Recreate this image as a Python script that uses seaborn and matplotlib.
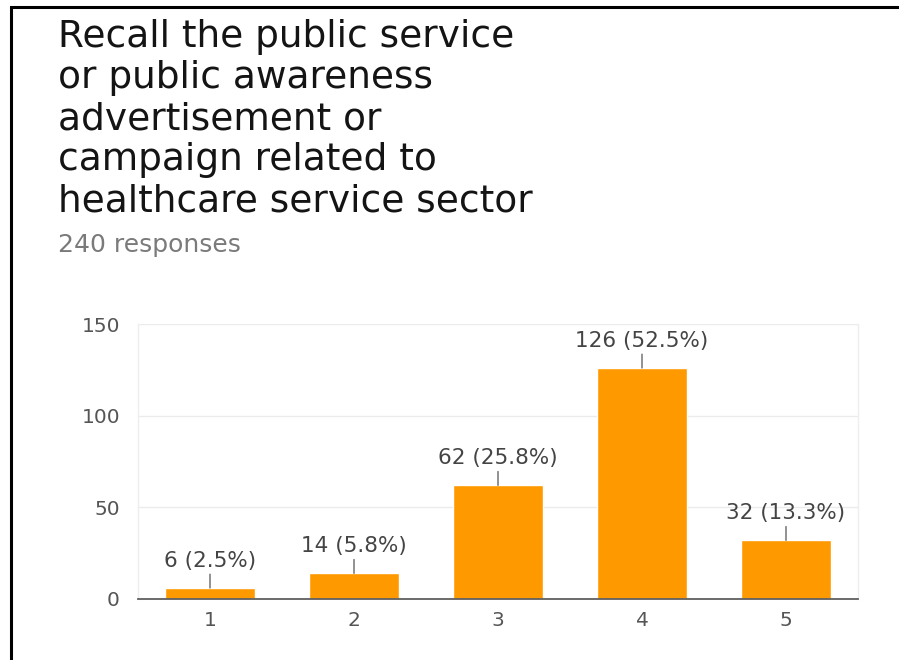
import matplotlib
matplotlib.use("Agg")
import matplotlib.pyplot as plt
import seaborn as sns
import pandas as pd
from matplotlib.lines import Line2D

# Survey question and response summary
title_lines = [
    "Recall the public service",
    "or public awareness",
    "advertisement or",
    "campaign related to",
    "healthcare service sector",
]
subtitle = "240 responses"

# Rating scale and responses per rating
ratings = ["1", "2", "3", "4", "5"]
counts = [6, 14, 62, 126, 32]
percents = [2.5, 5.8, 25.8, 52.5, 13.3]
y_ticks = [0, 50, 100, 150]

sns.set_theme(style="white")
plt.rcParams["font.family"] = ["DejaVu Sans"]

W, H = 899, 660
fig = plt.figure(figsize=(W / 100, H / 100), dpi=100)
fig.patch.set_facecolor("white")

# Card frame (left and top edges)
fig.add_artist(Line2D([11 / W, 11 / W, 1.0], [0.0, 1 - 7 / H, 1 - 7 / H],
                      transform=fig.transFigure, color="black", lw=2.2,
                      solid_joinstyle="miter"))

# Title, one line per row, then the response count
baselines = [47, 88, 129, 170, 211]
for line, b in zip(title_lines, baselines):
    fig.text(58 / W, 1 - b / H, line, fontsize=27, va="baseline",
             ha="left", color="#141414")
fig.text(58 / W, 1 - 252 / H, subtitle, fontsize=18, va="baseline",
         ha="left", color="#7a7a7a")

ax = fig.add_axes([138 / W, 1 - 599 / H, 720 / W, 275 / H])
df = pd.DataFrame({"rating": ratings, "count": counts})
sns.barplot(data=df, x="rating", y="count", color="#FF9900", width=0.62,
            saturation=1, errorbar=None, ax=ax)

ax.set_xlim(-0.5, len(ratings) - 0.5)
ax.set_ylim(0, 150)
ax.set_yticks(y_ticks)
ax.set_xlabel("")
ax.set_ylabel("")
ax.set_axisbelow(True)
ax.yaxis.grid(True, color="#ebebeb", lw=1)
ax.xaxis.grid(False)

ax.spines["top"].set_visible(False)
ax.spines["bottom"].set_color("#5f5f5f")
ax.spines["bottom"].set_linewidth(1.3)
for side in ("left", "right"):
    ax.spines[side].set_color("#eeeeee")
    ax.spines[side].set_linewidth(1)

ax.tick_params(axis="both", length=0, labelsize=14.5, labelcolor="#555555")
ax.tick_params(axis="y", pad=13)
ax.tick_params(axis="x", pad=9)

# Value labels with short leader lines
for i, (c, p) in enumerate(zip(counts, percents)):
    ax.annotate(f"{c} ({p}%)", xy=(i, c), xytext=(0, 19.5),
                textcoords="offset points", ha="center", va="center",
                fontsize=15.5, color="#444444",
                arrowprops=dict(arrowstyle="-", color="#666666", lw=1,
                                shrinkA=0, shrinkB=0, relpos=(0.5, 0.1)))

fig.savefig("out.png", dpi=100)
